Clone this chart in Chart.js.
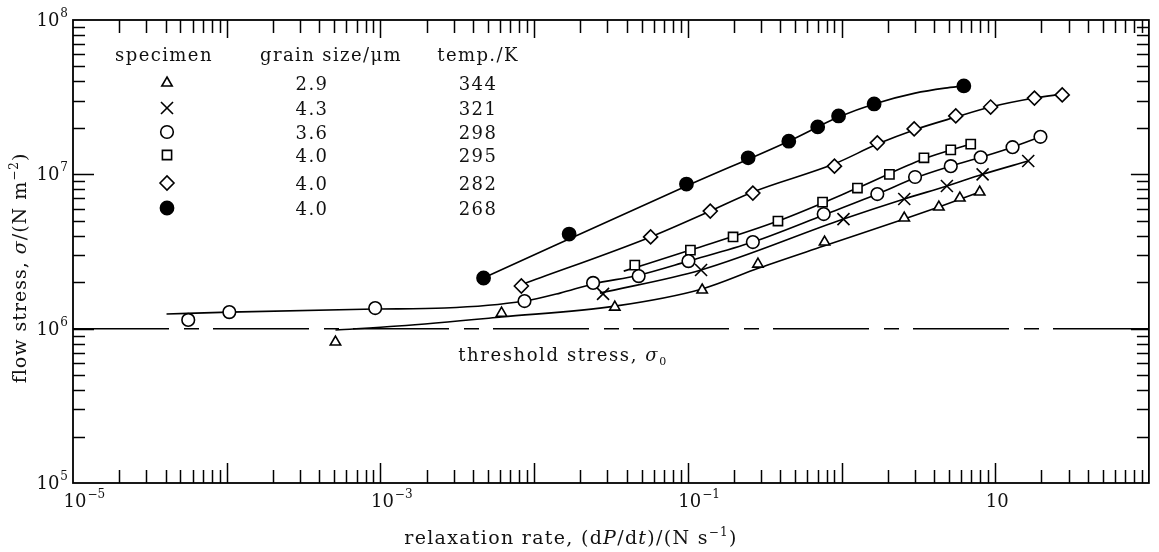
<!DOCTYPE html>
<html lang="en">
<head>
<meta charset="UTF-8">
<title>Flow stress against relaxation rate</title>
<script src="https://cdn.jsdelivr.net/npm/chart.js@4.4.0/dist/chart.umd.min.js"></script>
<style>
  html,body{margin:0;padding:0;background:#fff;}
  #box{width:1159px;height:552px;}
</style>
</head>
<body>
<div id="box"><canvas id="chart" width="1159" height="552"></canvas></div>
<script>
// measured points: relaxation rate dP/dt (N/s) and flow stress (N/m^2)
const triX = [5.1e-4, 6.14e-3, 0.0335, 0.124, 0.286, 0.776, 2.56, 4.30, 5.89, 7.93];
const triY = [8.19e5, 1.26e6, 1.38e6, 1.78e6, 2.62e6, 3.64e6, 5.21e6, 6.14e6, 7.02e6, 7.68e6];
const crossX = [0.0281, 0.122, 1.03, 2.56, 4.85, 8.28, 16.4];
const crossY = [1.68e6, 2.40e6, 5.13e6, 6.92e6, 8.40e6, 1.0e7, 1.22e7];
const circX = [5.62e-5, 1.04e-4, 9.25e-4, 8.66e-3, 0.0242, 0.0479, 0.101, 0.265, 0.766, 1.71, 3.01, 5.14, 8.05, 12.97, 19.7];
const circY = [1.14e6, 1.28e6, 1.36e6, 1.51e6, 1.98e6, 2.19e6, 2.74e6, 3.64e6, 5.53e6, 7.45e6, 9.61e6, 1.13e7, 1.29e7, 1.50e7, 1.75e7];
const sqX = [0.0452, 0.104, 0.197, 0.386, 0.753, 1.27, 2.05, 3.44, 5.14, 6.93];
const sqY = [2.58e6, 3.23e6, 3.93e6, 4.98e6, 6.61e6, 8.15e6, 1.0e7, 1.28e7, 1.44e7, 1.57e7];
const diaX = [8.26e-3, 0.0573, 0.14, 0.265, 0.90, 1.71, 2.97, 5.54, 9.34, 18.0, 27.3];
const diaY = [1.89e6, 3.93e6, 5.78e6, 7.56e6, 1.13e7, 1.60e7, 1.97e7, 2.39e7, 2.73e7, 3.12e7, 3.27e7];
const dotX = [4.69e-3, 0.0169, 0.098, 0.247, 0.454, 0.70, 0.957, 1.63, 6.25];
const dotY = [2.13e6, 4.10e6, 8.65e6, 1.28e7, 1.64e7, 2.03e7, 2.39e7, 2.86e7, 3.74e7];

// hand-drawn trend curves through each set
const triFitX = [5.1e-4, 1.30e-3, 6.14e-3, 0.0335, 0.124, 0.290, 0.766, 2.56, 4.30, 7.93];
const triFitY = [9.8e5, 1.04e6, 1.19e6, 1.40e6, 1.81e6, 2.47e6, 3.43e6, 5.13e6, 6.14e6, 7.68e6];
const crossFitX = [0.0268, 0.122, 1.03, 2.56, 4.85, 8.28, 16.4];
const crossFitY = [1.70e6, 2.40e6, 5.13e6, 6.92e6, 8.40e6, 1.0e7, 1.22e7];
const circFitX = [4.06e-5, 1.04e-4, 9.25e-4, 2.62e-3, 8.66e-3, 0.01475, 0.0242, 0.0479, 0.101, 0.265, 0.766, 1.71, 3.01, 5.14, 8.05, 12.97, 19.7];
const circFitY = [1.245e6, 1.28e6, 1.34e6, 1.36e6, 1.51e6, 1.70e6, 1.95e6, 2.22e6, 2.74e6, 3.64e6, 5.45e6, 7.45e6, 9.46e6, 1.13e7, 1.29e7, 1.50e7, 1.75e7];
const sqFitX = [0.0383, 0.104, 0.386, 1.27, 3.44, 6.93];
const sqFitY = [2.36e6, 3.23e6, 4.98e6, 8.15e6, 1.26e7, 1.57e7];
const diaFitX = [8.51e-3, 0.0573, 0.14, 0.265, 0.90, 1.71, 2.97, 5.54, 9.34, 18.0, 27.3];
const diaFitY = [1.95e6, 3.93e6, 5.78e6, 7.68e6, 1.17e7, 1.57e7, 1.94e7, 2.35e7, 2.73e7, 3.12e7, 3.31e7];
const dotFitX = [4.83e-3, 0.098, 0.454, 0.957, 1.63, 3.01, 4.71, 6.25];
const dotFitY = [2.16e6, 8.40e6, 1.64e7, 2.35e7, 2.86e7, 3.36e7, 3.62e7, 3.74e7];

// threshold stress sigma_0
const thresholdX = [1e-5, 100];
const thresholdY = [1e6, 1e6];

// key table
const grainSizes = ['2.9', '4.3', '3.6', '4.0', '4.0', '4.0'];
const temps = ['344', '321', '298', '295', '282', '268'];

// axis tick labels
const xLabelVals = [1e-5, 1e-3, 1e-1, 10];
const xLabelExps = ['\u22125', '\u22123', '\u22121', ''];
const yLabelVals = [1e5, 1e6, 1e7, 1e8];
const yLabelExps = ['5', '6', '7', '8'];

const SERIF = '"DejaVu Serif", "Liberation Serif", serif';

const styles = [
  {ps: 'triangle', r: 6, fill: '#fff'},
  {ps: 'crossRot', r: 8.5, fill: '#fff'},
  {ps: 'circle', r: 6.3, fill: '#fff'},
  {ps: 'rect', r: 6.5, fill: '#fff'},
  {ps: 'rectRot', r: 7, fill: '#fff'},
  {ps: 'circle', r: 6.6, fill: '#000'}
];

const pairs = (xs, ys) => xs.map((x, i) => ({x, y: ys[i]}));

function markers(xs, ys, st) {
  return {
    data: pairs(xs, ys), showLine: false, order: 0,
    pointStyle: st.ps, pointRadius: st.r, pointBorderWidth: 1.6,
    pointBorderColor: '#000', pointBackgroundColor: st.fill
  };
}
function curve(xs, ys) {
  return {
    data: pairs(xs, ys), showLine: true, order: 1, pointRadius: 0,
    borderColor: '#000', borderWidth: 1.6, cubicInterpolationMode: 'monotone'
  };
}

// mixed-font text run, centred on x
function richText(ctx, segs, x, y) {
  let total = 0;
  segs.forEach(s => { ctx.font = s.f; s.w = ctx.measureText(s.t).width; total += s.w; });
  let cx = x - total / 2;
  ctx.textAlign = 'left';
  segs.forEach(s => { ctx.font = s.f; ctx.fillText(s.t, cx, y + (s.dy || 0)); cx += s.w; });
}

function powLabel(ctx, exp, x, y, align) {
  ctx.font = '18px ' + SERIF;
  const bw = ctx.measureText('10').width;
  ctx.font = '12px ' + SERIF;
  const ew = exp ? ctx.measureText(exp).width + 1 : 0;
  const x0 = align === 'right' ? x - bw - ew : x - bw / 2;
  ctx.textAlign = 'left';
  ctx.font = '18px ' + SERIF;
  ctx.fillText('10', x0, y);
  if (exp) { ctx.font = '12px ' + SERIF; ctx.fillText(exp, x0 + bw + 1, y - 9); }
}

const decorations = {
  id: 'decorations',
  afterDraw(chart) {
    const {ctx, chartArea: a, scales: {x, y}} = chart;
    ctx.save();
    ctx.strokeStyle = '#000'; ctx.fillStyle = '#111';
    ctx.lineWidth = 1.8;
    ctx.strokeRect(a.left, a.top, a.right - a.left, a.bottom - a.top);

    // inward log ticks on all four sides
    ctx.lineWidth = 1.5;
    ctx.beginPath();
    for (let e = -5; e < 2; e++) {
      for (let m = 1; m < 10; m++) {
        if (e === -5 && m === 1) continue;
        const px = Math.round(x.getPixelForValue(m * Math.pow(10, e))) + 0.5;
        const major = m === 1;
        ctx.moveTo(px, a.bottom); ctx.lineTo(px, a.bottom - (major ? 20 : 13));
        ctx.moveTo(px, a.top); ctx.lineTo(px, a.top + (major ? 18 : 13));
      }
    }
    for (let e = 5; e < 8; e++) {
      for (let m = 1; m < 10; m++) {
        if (e === 5 && m === 1) continue;
        const py = Math.round(y.getPixelForValue(m * Math.pow(10, e))) + 0.5;
        const major = m === 1;
        ctx.moveTo(a.left, py); ctx.lineTo(a.left + (major ? 21 : 12), py);
        ctx.moveTo(a.right, py); ctx.lineTo(a.right - (major ? 18 : 12), py);
      }
    }
    ctx.stroke();

    // tick labels
    ctx.textBaseline = 'alphabetic';
    xLabelVals.forEach((v, i) => powLabel(ctx, xLabelExps[i], x.getPixelForValue(v) + 2, a.bottom + 24, 'base'));
    yLabelVals.forEach((v, i) => powLabel(ctx, yLabelExps[i], a.left - 5, y.getPixelForValue(v) + 6, 'right'));

    // axis titles
    const f = '19px ' + SERIF, fi = 'italic 19px ' + SERIF, fs = '12px ' + SERIF;
    ctx.letterSpacing = '1.3px';
    richText(ctx, [
      {t: 'relaxation rate, (d', f}, {t: 'P', f: fi}, {t: '/d', f}, {t: 't', f: fi},
      {t: ')/(N s', f}, {t: '\u22121', f: fs, dy: -8}, {t: ')', f}
    ], 571, 544);
    ctx.letterSpacing = '1px';
    ctx.save();
    ctx.translate(26, 268);
    ctx.rotate(-Math.PI / 2);
    richText(ctx, [
      {t: 'flow stress, ', f}, {t: '\u03c3', f: fi}, {t: '/(N m', f},
      {t: '\u22122', f: fs, dy: -8}, {t: ')', f}
    ], 0, 0);
    ctx.restore();

    // threshold label
    ctx.letterSpacing = '1.6px';
    richText(ctx, [
      {t: 'threshold stress, ', f: '18px ' + SERIF}, {t: '\u03c3', f: 'italic 18px ' + SERIF},
      {t: '0', f: '11px ' + SERIF, dy: 4}
    ], 563, 361);

    // key table
    ctx.letterSpacing = '1.4px';
    const kf = '18px ' + SERIF;
    ctx.font = kf; ctx.textAlign = 'center';
    ctx.fillText('specimen', 164, 61);
    ctx.fillText('grain size/\u03bcm', 331, 61);
    ctx.fillText('temp./K', 478, 61);
    const rowY = [83, 108, 132, 155, 183, 208];
    rowY.forEach((ry, i) => {
      ctx.font = kf; ctx.textAlign = 'center';
      ctx.fillText(grainSizes[i], 312, ry + 7);
      ctx.fillText(temps[i], 478, ry + 7);
      const st = styles[i];
      ctx.fillStyle = st.fill; ctx.strokeStyle = '#000'; ctx.lineWidth = 1.6;
      Chart.helpers.drawPoint(ctx, {pointStyle: st.ps, radius: st.r, rotation: 0, borderWidth: 1.6}, 167, ry);
      ctx.fillStyle = '#111';
    });
    ctx.restore();
  }
};

new Chart(document.getElementById('chart'), {
  type: 'scatter',
  data: {
    datasets: [
      {
        data: pairs(thresholdX, thresholdY), showLine: true, order: 2, pointRadius: 0,
        borderColor: '#000', borderWidth: 1.5, borderDash: [96, 15, 15, 14]
      },
      curve(triFitX, triFitY), curve(crossFitX, crossFitY), curve(circFitX, circFitY),
      curve(sqFitX, sqFitY), curve(diaFitX, diaFitY), curve(dotFitX, dotFitY),
      markers(triX, triY, styles[0]), markers(crossX, crossY, styles[1]),
      markers(circX, circY, styles[2]), markers(sqX, sqY, styles[3]),
      markers(diaX, diaY, styles[4]), markers(dotX, dotY, styles[5])
    ]
  },
  options: {
    responsive: false,
    animation: false,
    layout: {padding: {left: 73, top: 20, right: 4, bottom: 69}},
    plugins: {legend: {display: false}, tooltip: {enabled: false}},
    scales: {
      x: {type: 'logarithmic', min: 1e-5, max: 100, display: false},
      y: {type: 'logarithmic', min: 1e5, max: 1e8, display: false}
    }
  },
  plugins: [decorations]
});
</script>
</body>
</html>
